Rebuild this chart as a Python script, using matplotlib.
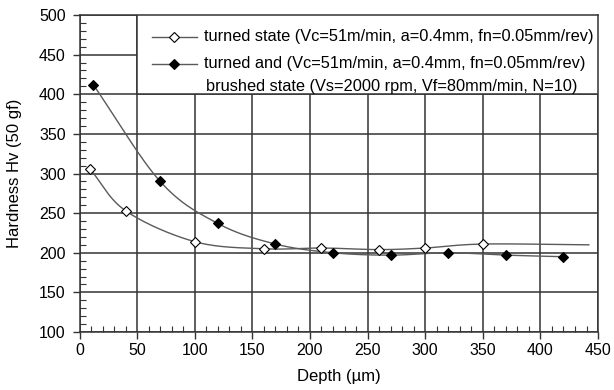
import numpy as np
import matplotlib
matplotlib.use("Agg")
import matplotlib.pyplot as plt
from matplotlib.patches import Rectangle
from matplotlib.lines import Line2D
from matplotlib.ticker import MultipleLocator

plt.rcParams['font.family'] = ['Liberation Sans', 'DejaVu Sans']

# data
turned_x = [9, 40, 100, 160, 210, 260, 300, 350]
turned_y = [306, 253, 214, 205, 206, 204, 206, 211]
turned_tail_x = [442]   # the smoothed line runs on past the last marker
turned_tail_y = [210]

brushed_x = [12, 70, 120, 170, 220, 270, 320, 370, 420]
brushed_y = [412, 290, 237, 211, 200, 197, 200, 197, 195]

x_ticks = [0, 50, 100, 150, 200, 250, 300, 350, 400, 450]
y_ticks = [100, 150, 200, 250, 300, 350, 400, 450, 500]

label_turned = "turned state (Vc=51m/min, a=0.4mm, fn=0.05mm/rev)"
label_brushed_1 = "turned and (Vc=51m/min, a=0.4mm, fn=0.05mm/rev)"
label_brushed_2 = "brushed state (Vs=2000 rpm, Vf=80mm/min, N=10)"

GRID = '#333333'
LINE = '#5a5a5a'


def smooth(xs, ys, n=30):
    # catmull-rom style curve, close to the spreadsheet "smoothed line"
    x = np.asarray(xs, float)
    y = np.asarray(ys, float)
    px = np.concatenate([[2 * x[0] - x[1]], x, [2 * x[-1] - x[-2]]])
    py = np.concatenate([[2 * y[0] - y[1]], y, [2 * y[-1] - y[-2]]])
    out_x, out_y = [], []
    t = np.linspace(0, 1, n)
    for i in range(1, len(px) - 2):
        p0x, p1x, p2x, p3x = px[i - 1:i + 3]
        p0y, p1y, p2y, p3y = py[i - 1:i + 3]
        # bezier control points
        c1x = p1x + (p2x - p0x) / 6
        c1y = p1y + (p2y - p0y) / 6
        c2x = p2x - (p3x - p1x) / 6
        c2y = p2y - (p3y - p1y) / 6
        bx = (1 - t) ** 3 * p1x + 3 * (1 - t) ** 2 * t * c1x + 3 * (1 - t) * t ** 2 * c2x + t ** 3 * p2x
        by = (1 - t) ** 3 * p1y + 3 * (1 - t) ** 2 * t * c1y + 3 * (1 - t) * t ** 2 * c2y + t ** 3 * p2y
        out_x.extend(bx)
        out_y.extend(by)
    return out_x, out_y


fig = plt.figure(figsize=(6.14, 3.90), dpi=100)
ax = fig.add_axes([0.1295, 0.1487, 0.8445, 0.8128])

ax.set_xlim(0, 450)
ax.set_ylim(100, 500)
ax.set_xticks(x_ticks)
ax.set_yticks(y_ticks)
ax.xaxis.set_minor_locator(MultipleLocator(10))
ax.yaxis.set_minor_locator(MultipleLocator(10))
ax.tick_params(which='major', direction='out', length=5, width=1, color=GRID, labelsize=11.5)
ax.tick_params(axis='x', which='major', pad=3)
ax.tick_params(axis='y', which='major', pad=5)
ax.tick_params(which='minor', direction='in', length=4, width=0.8, color=GRID)
ax.grid(True, which='major', color=GRID, linewidth=1.1)
ax.set_axisbelow(True)
for s in ax.spines.values():
    s.set_color(GRID)
    s.set_linewidth(1.1)

# curves
cx, cy = smooth(turned_x + turned_tail_x, turned_y + turned_tail_y)
ax.plot(cx, cy, color=LINE, lw=1.0, zorder=3)
cx, cy = smooth(brushed_x, brushed_y)
ax.plot(cx, cy, color=LINE, lw=1.0, zorder=3)

ax.plot(turned_x, turned_y, ls='none', marker='D', ms=5.6, mfc='white', mec='black', mew=0.8, zorder=4)
ax.plot(brushed_x, brushed_y, ls='none', marker='D', ms=5.6, mfc='black', mec='black', mew=0.8, zorder=4)

ax.set_xlabel("Depth (\u00b5m)", fontsize=12, labelpad=8)
ax.set_ylabel("Hardness Hv (50 gf)", fontsize=12, labelpad=12)

# legend box sits in the upper right cell block, on top of the grid
x0 = 50 / 450
ax.add_patch(Rectangle((x0, 0.75), 1 - x0, 0.25, transform=ax.transAxes,
                       facecolor='white', edgecolor=GRID, lw=1.1, zorder=5))

rows = [0.932, 0.846, 0.776]
h0, h1, hm, tx = 0.139, 0.226, 0.182, 0.240
ax.add_line(Line2D([h0, h1], [rows[0], rows[0]], transform=ax.transAxes, color=LINE, lw=1.0, zorder=6))
ax.add_line(Line2D([hm], [rows[0]], transform=ax.transAxes, ls='none', marker='D', ms=5.0,
                   mfc='white', mec='black', mew=0.8, zorder=7))
ax.add_line(Line2D([h0, h1], [rows[1], rows[1]], transform=ax.transAxes, color=LINE, lw=1.0, zorder=6))
ax.add_line(Line2D([hm], [rows[1]], transform=ax.transAxes, ls='none', marker='D', ms=5.0,
                   mfc='black', mec='black', mew=0.8, zorder=7))
ax.text(tx, rows[0], label_turned, transform=ax.transAxes, fontsize=11.8, va='center', zorder=7)
ax.text(tx, rows[1], label_brushed_1, transform=ax.transAxes, fontsize=11.8, va='center', zorder=7)
ax.text(tx + 0.004, rows[2], label_brushed_2, transform=ax.transAxes, fontsize=11.8, va='center', zorder=7)

fig.savefig("out.png", dpi=100)
